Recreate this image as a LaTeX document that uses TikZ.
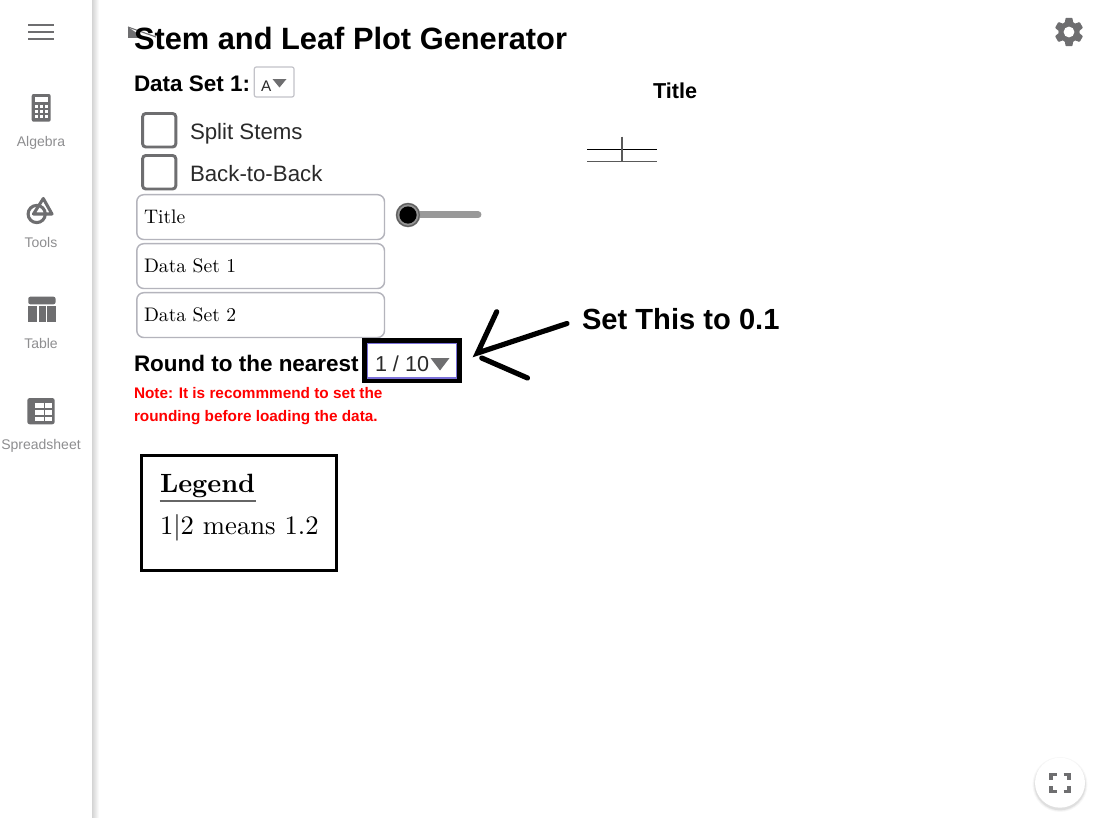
\documentclass[tikz,border=0pt]{standalone}
\usepackage{fontspec}
\newfontfamily\arialf{Liberation Sans}
\definecolor{icongray}{HTML}{6E6E70}
\definecolor{labelgray}{HTML}{8E8E90}
\definecolor{boxgray}{HTML}{B4B4BC}
\definecolor{notered}{HTML}{FF0000}
\definecolor{focusblue}{HTML}{7A70D8}
\definecolor{ctrltext}{HTML}{2A2A2A}
\tikzset{
  x=0.75pt,y=-0.75pt,
  txt/.style={anchor=base west,inner sep=0pt,outer sep=0pt},
  sz/.style={font=\arialf\fontsize{#1}{#1}\selectfont},
  szb/.style={font=\arialf\bfseries\fontsize{#1}{#1}\selectfont},
  lmten/.style={font=\fontsize{10}{10}\selectfont,scale=#1},
  lmtenb/.style={font=\bfseries\fontsize{10}{10}\selectfont,scale=#1},
  sidelabel/.style={anchor=base,inner sep=0pt,sz=10.5,text=labelgray},
  inputbox/.style={draw=boxgray,line width=1.1pt,rounded corners=5.2pt},
  checkbox/.style={draw=icongray,line width=2.2pt,rounded corners=2.4pt},
  handstroke/.style={draw=black,line width=3.9pt,line cap=round},
}
\begin{document}
\begin{tikzpicture}
\useasboundingbox (0,0) rectangle (1098,817);
\fill[white] (0,0) rectangle (1098,817);
% sidebar shadow
\shade[left color=black!17,right color=white,shading angle=90] (92,0) rectangle (99,817);
% hamburger
\foreach \yy in {25,32,39}{\fill[icongray] (28,\yy-1.3) rectangle (54,\yy+1.3);}
% calculator
\fill[icongray,rounded corners=1.5pt] (31.7,94) rectangle (50.7,121.7);
\fill[white] (34.8,97.3) rectangle (47.6,102.3);
\foreach \cx in {35,39.9,44.8}{\foreach \cy in {105,110,115}{\fill[white] (\cx,\cy) rectangle +(2.8,2.9);}}
\node[sidelabel] (algebra) at (41,146) {Algebra};
% tools
\draw[icongray,line width=2.3pt] (36.7,214) circle (8.6);
\draw[icongray,line width=2.3pt,line join=round] (43.3,198.5) -- (52,214) -- (33.5,214) -- cycle;
\node[sidelabel] (tools) at (41,247) {Tools};
% table
\fill[icongray,rounded corners=1.5pt] (28.3,296.7) rectangle (55.5,304.3);
\fill[icongray] (28.3,306) rectangle (37,322.3);
\fill[icongray] (38.8,306) rectangle (45.5,322.3);
\fill[icongray] (47.2,306) rectangle (55.5,322.3);
\node[sidelabel] (table) at (41,348) {Table};
% spreadsheet
\fill[icongray,rounded corners=1.8pt] (27.3,398) rectangle (54.7,424.3);
\foreach \cy in {403.3,410,416.5}{
  \fill[white] (35.4,\cy) rectangle +(8.2,4.6);
  \fill[white] (45,\cy) rectangle +(7.3,4.6);}
\node[sidelabel] (spreadsheet) at (41,449) {Spreadsheet};
% small back arrow under title
\fill[icongray] (128,27) -- (128,38) -- (144,38) -- cycle;
\draw[icongray,line width=0.8pt] (128,27) -- (156,37);
% heading
\node[txt,szb=23.1] (heading) at (134,50) {Stem and Leaf Plot Generator};
% data set selector
\node[txt,szb=16.85] (dslabel) at (134,91) {Data Set 1:};
\draw[draw=boxgray!80,line width=0.9pt,rounded corners=1.5pt] (254.3,67) rectangle (294,97);
\node[txt,sz=11.5,text=ctrltext] (dsval) at (261,91) {A};
\fill[icongray] (272.5,79) -- (286.5,79) -- (279.5,87.5) -- cycle;
% checkboxes
\draw[checkbox] (142.6,113.5) rectangle (175.8,147);
\node[txt,sz=16.7,text=ctrltext] (split) at (190,139) {Split Stems};
\draw[checkbox] (142.6,155.5) rectangle (175.8,189);
\node[txt,sz=16.7,text=ctrltext] (back) at (190,181) {Back-to-Back};
% input boxes
\draw[inputbox] (136.8,194.7) rectangle (384.5,239.5);
\node[txt,lmten=1.47] (in1) at (144,223.5) {Title};
\draw[inputbox] (136.8,243.7) rectangle (384.5,288.5);
\node[txt,lmten=1.47] (in2) at (144,272.5) {Data Set 1};
\draw[inputbox] (136.8,292.7) rectangle (384.5,337.5);
\node[txt,lmten=1.47] (in3) at (144,321.5) {Data Set 2};
% slider
\draw[draw=black!40,line width=5.2pt,line cap=round] (408,214.7) -- (478,214.7);
\fill[black!42] (408,215) circle (12.3);
\draw[black!62,line width=1pt] (408,215) circle (11.3);
\fill[black] (408,215) circle (8.6);
% rounding row
\node[txt,szb=16.85] (roundl) at (134,371) {Round to the nearest};
\draw[black,line width=3.75pt] (364.8,340.8) rectangle (459.3,380.8);
\draw[focusblue,line width=0.8pt] (367.6,343.6) rectangle (456.5,378);
\node[txt,sz=16.2,text=ctrltext] (roundv) at (375,371) {1 / 10};
\fill[icongray] (430.5,358) -- (449.5,358) -- (440,370.5) -- cycle;
% note
\node[txt,szb=11.5,text=notered] (note1) at (134,398) {Note: It is recommmend to set the};
\node[txt,szb=11.5,text=notered] (note2) at (134,421) {rounding before loading the data.};
% hand-drawn arrow and label
\coordinate (tip) at (477.5,353);
\coordinate (tipb) at (481.7,358);
\coordinate (arma) at (496.7,311.7);
\coordinate (armb) at (567,323.5);
\coordinate (armc) at (527.5,378);
\draw[handstroke] (arma) -- (tip) -- (armb);
\draw[handstroke] (tipb) -- (armc);
\node[txt,szb=21.85] (setthis) at (582,329) {Set This to 0.1};
% legend
\draw[black,line width=2.2pt] (141.3,455.8) rectangle (336.3,570.5);
\node[txt,lmtenb=1.98] (legend) at (160,492) {Legend};
\draw[black!60,line width=1.2pt] (159.5,500.7) -- (256,500.7);
\node[txt,lmten=2] (means) at (160,534) {$1|2$ means 1.2};
% plot
\node[txt,szb=16.2] (ptitle) at (653,98.5) {Title};
\draw[black,line width=0.75pt] (587.3,149.3) -- (656.7,149.3);
\draw[black!65,line width=1.1pt] (587.3,161.7) -- (656.7,161.7);
\draw[black!65,line width=1.1pt] (622,136.7) -- (622,161.7);
% gear
\fill[icongray] (1069,32) circle (10.6);
\foreach \a in {0,60,...,300}{
  \fill[icongray,rounded corners=0.6pt,shift={(1069,32)},rotate=\a] (-3.4,-14.2) -- (3.4,-14.2) -- (4.4,-8) -- (-4.4,-8) -- cycle;}
\fill[white] (1069,32) circle (5.4);
% fullscreen button
\foreach \op/\rr in {0.03/27.5,0.04/26.5,0.06/25.7}{\fill[black,opacity=\op] (1060,784.5) circle (\rr);}
\fill[white] (1060,782.7) circle (25);
\draw[icongray,line width=2.4pt] (1051,779.5) -- (1051,774.3) -- (1056.5,774.3);
\draw[icongray,line width=2.4pt] (1063.5,774.3) -- (1069,774.3) -- (1069,779.5);
\draw[icongray,line width=2.4pt] (1051,786) -- (1051,791.7) -- (1056.5,791.7);
\draw[icongray,line width=2.4pt] (1063.5,791.7) -- (1069,791.7) -- (1069,786);
\end{tikzpicture}
\end{document}
